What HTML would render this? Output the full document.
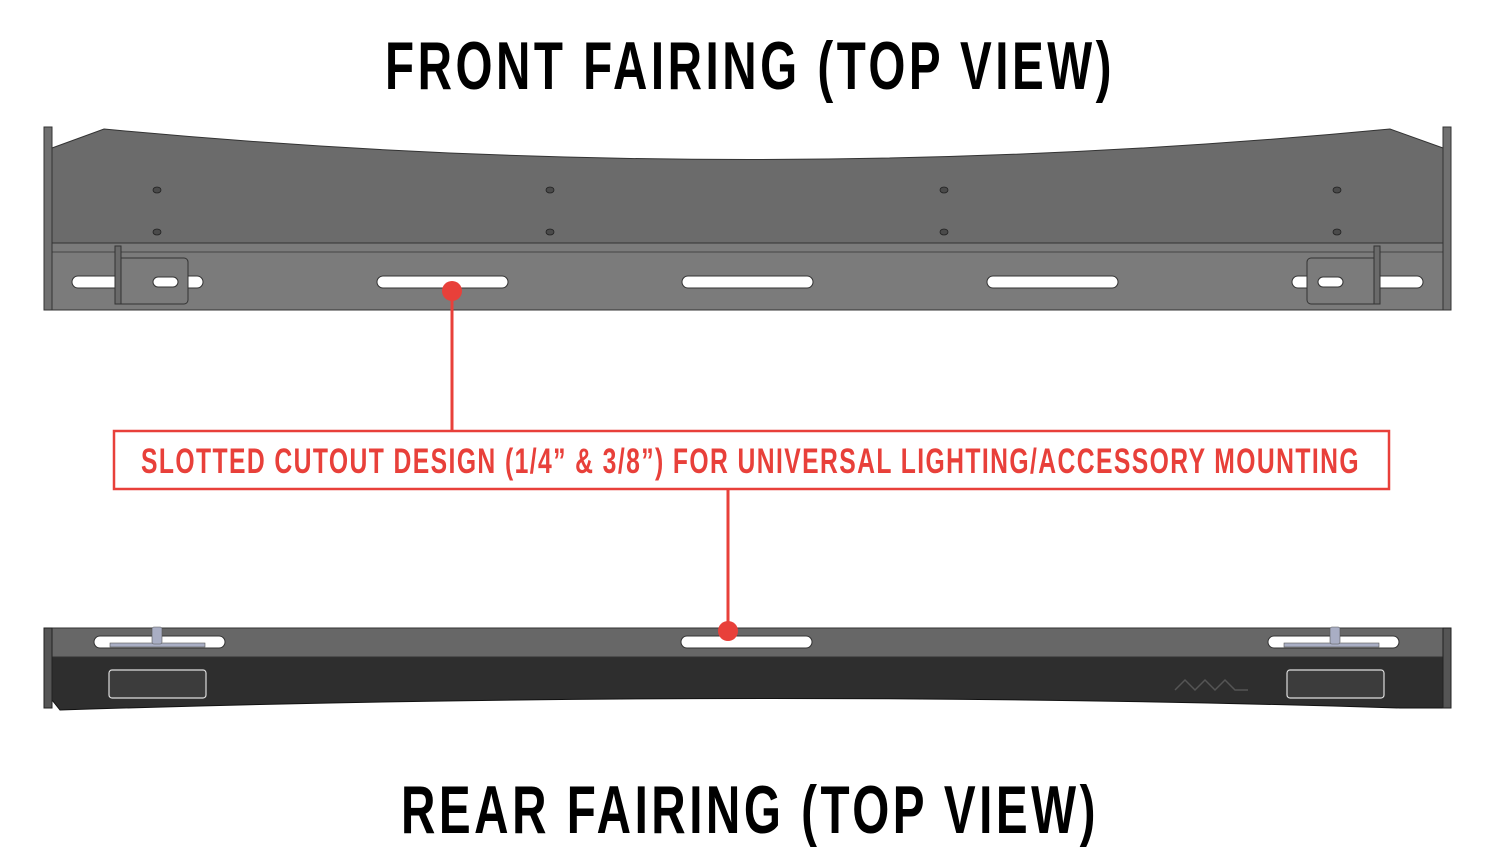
<!DOCTYPE html>
<html><head><meta charset="utf-8"><style>html,body{margin:0;padding:0;background:#fff}svg{display:block}</style></head>
<body>
<svg width="1500" height="847" viewBox="0 0 1500 847" xmlns="http://www.w3.org/2000/svg">
<g font-family="'Liberation Sans',sans-serif" font-weight="bold">
<text x="385" y="89" font-size="68" letter-spacing="5" textLength="730" lengthAdjust="spacingAndGlyphs" fill="#000">FRONT FAIRING (TOP VIEW)</text>
<text x="401" y="833" font-size="68" letter-spacing="5" textLength="698" lengthAdjust="spacingAndGlyphs" fill="#000">REAR FAIRING (TOP VIEW)</text>
<text x="141" y="473" font-size="35" letter-spacing="2" textLength="1219" lengthAdjust="spacingAndGlyphs" fill="#e8403a">SLOTTED CUTOUT DESIGN (1/4” &amp; 3/8”) FOR UNIVERSAL LIGHTING/ACCESSORY MOUNTING</text>
</g>
<!-- front fairing -->
<path d="M52,148 L104,129 Q750,190 1390,129 L1443,148 L1443,243 L52,243 Z" fill="#6b6b6b" stroke="#333" stroke-width="1"/>
<rect x="52" y="243" width="1391" height="67" fill="#7b7b7b" stroke="#333" stroke-width="1"/>
<line x1="52" y1="252" x2="1443" y2="252" stroke="#444" stroke-width="1"/>
<rect x="44" y="127" width="8" height="183" fill="#707070" stroke="#333"/>
<rect x="1443" y="127" width="8" height="183" fill="#707070" stroke="#333"/>
<g fill="#4a4a4a" stroke="#222" stroke-width="0.8">
<ellipse cx="157" cy="190" rx="4" ry="3"/><ellipse cx="157" cy="232" rx="4" ry="3"/>
<ellipse cx="550" cy="190" rx="4" ry="3"/><ellipse cx="550" cy="232" rx="4" ry="3"/>
<ellipse cx="944" cy="190" rx="4" ry="3"/><ellipse cx="944" cy="232" rx="4" ry="3"/>
<ellipse cx="1337" cy="190" rx="4" ry="3"/><ellipse cx="1337" cy="232" rx="4" ry="3"/>
</g>
<g fill="#fff" stroke="#333" stroke-width="1">
<rect x="72" y="276" width="131" height="12" rx="6"/>
<rect x="377" y="276" width="131" height="12" rx="6"/>
<rect x="682" y="276" width="131" height="12" rx="6"/>
<rect x="987" y="276" width="131" height="12" rx="6"/>
<rect x="1292" y="276" width="131" height="12" rx="6"/>
</g>
<rect x="115" y="258" width="73" height="46" rx="4" fill="#7b7b7b" stroke="#333"/>
<rect x="115" y="246" width="6" height="58" fill="#6a6a6a" stroke="#333"/>
<rect x="153" y="277" width="25" height="10" rx="5" fill="#fff" stroke="#333"/>
<rect x="1307" y="258" width="73" height="46" rx="4" fill="#7b7b7b" stroke="#333"/>
<rect x="1374" y="246" width="6" height="58" fill="#6a6a6a" stroke="#333"/>
<rect x="1318" y="277" width="25" height="10" rx="5" fill="#fff" stroke="#333"/>
<!-- rear fairing -->
<path d="M52,657 L1443,657 L1443,708 L1400,708 Q750,688 60,710 L52,700 Z" fill="#2e2e2e" stroke="#111"/>
<rect x="44" y="628" width="1407" height="29" fill="#676767" stroke="#333"/>
<rect x="44" y="628" width="8" height="80" fill="#555" stroke="#222"/>
<rect x="1443" y="628" width="8" height="80" fill="#555" stroke="#222"/>
<g fill="#fff" stroke="#333" stroke-width="1">
<rect x="94" y="636" width="131" height="12" rx="6"/>
<rect x="681" y="636" width="131" height="12" rx="6"/>
<rect x="1268" y="636" width="131" height="12" rx="6"/>
</g>
<g fill="#a9aec4" stroke="#555" stroke-width="0.6">
<rect x="110" y="643" width="95" height="4"/><rect x="152" y="627" width="10" height="17" rx="2"/>
<rect x="1284" y="643" width="95" height="4"/><rect x="1330" y="627" width="10" height="17" rx="2"/>
</g>
<g fill="#3c3c3c" stroke="#ddd" stroke-width="1.2">
<rect x="109" y="670" width="97" height="28" rx="3"/>
<rect x="1287" y="670" width="97" height="28" rx="3"/>
</g>
<path d="M1175,690 L1185,680 L1195,690 L1205,680 L1215,690 L1225,680 L1235,690 L1248,690" fill="none" stroke="#555" stroke-width="1.5"/>
<!-- callouts -->
<rect x="114" y="431" width="1275" height="58" fill="none" stroke="#e8403a" stroke-width="2.5"/>
<line x1="452" y1="291" x2="452" y2="431" stroke="#e8403a" stroke-width="3"/>
<line x1="728" y1="489" x2="728" y2="631" stroke="#e8403a" stroke-width="3"/>
<circle cx="452" cy="291" r="10" fill="#e8403a"/>
<circle cx="728" cy="631" r="10" fill="#e8403a"/>
</svg>
</body></html>
